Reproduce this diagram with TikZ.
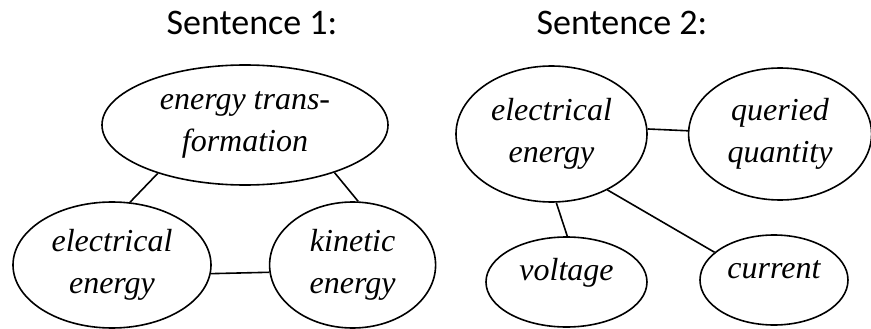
\documentclass[tikz,border=0pt]{standalone}
\usepackage{fontspec}
\setmainfont{Liberation Serif}
\newfontfamily\headfont{Carlito}
\usetikzlibrary{shapes.geometric,positioning}

\begin{document}
\begin{tikzpicture}[x=1pt,y=-1pt,line width=1.6pt,
    idea/.style={ellipse,draw,inner sep=0pt,align=center,
        font=\fontsize{32}{42}\selectfont\itshape},
    oneline/.style={text height=20pt,text depth=24pt},
    head/.style={anchor=base,font=\headfont\fontsize{36}{40}\selectfont}]
    \useasboundingbox (0,0) rectangle (871,329);

    \node[head] (s1) at (252,35) {Sentence 1:};
    \node[head] (s2) at (622,35) {Sentence 2:};

    \node[idea,minimum width=286pt,minimum height=120pt] (t1) at (245,125) {energy trans-\\formation};
    \node[idea,minimum width=198pt,minimum height=126pt] (e1) at (112,265) {electrical\\energy};
    \node[idea,minimum width=166pt,minimum height=126pt,right=57pt of e1] (k1) {kinetic\\energy};

    \node[idea,minimum width=191pt,minimum height=136pt] (e2) at (551.5,134) {electrical\\energy};
    \node[idea,minimum width=183pt,minimum height=132pt,right=40pt of e2] (q2) {queried\\quantity};
    \node[idea,oneline,minimum width=161pt,minimum height=90pt] (v2) at (566.5,282) {voltage};
    \node[idea,oneline,minimum width=148pt,minimum height=90pt] (c2) at (774,280) {current};

    \draw (t1.209) -- (e1.74);
    \draw (t1.332) -- (k1.85);
    \draw (e1.-5) -- (k1.185);

    \draw (e2.3) -- (q2.178);
    \draw (e2.274) -- (v2.89);
    \draw (e2.315) -- (c2.155);
\end{tikzpicture}
\end{document}
